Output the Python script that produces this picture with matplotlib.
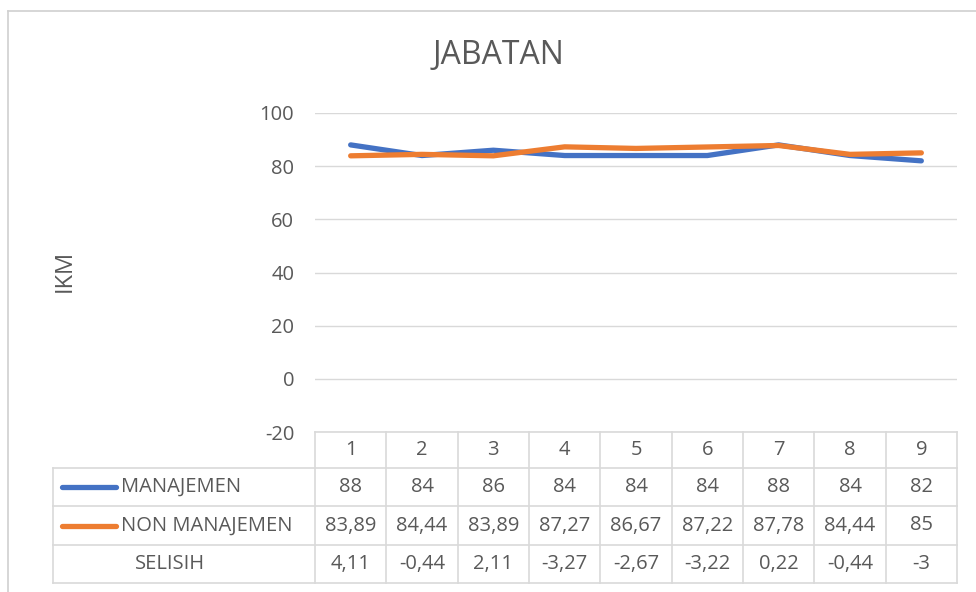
import matplotlib.pyplot as plt
import matplotlib.transforms as mtransforms
from matplotlib.lines import Line2D
import numpy as np

categories = ['1', '2', '3', '4', '5', '6', '7', '8', '9']
manajemen = [88, 84, 86, 84, 84, 84, 88, 84, 82]
non_manajemen = [83.89, 84.44, 83.89, 87.27, 86.67, 87.22, 87.78, 84.44, 85]
selisih = ['4,11', '-0,44', '2,11', '-3,27', '-2,67', '-3,22', '0,22', '-0,44', '-3']
y_ticks = [-20, 0, 20, 40, 60, 80, 100]

BLUE = '#4472C4'
ORANGE = '#ED7D31'
TXT = '#595959'
GRID = '#D9D9D9'
FS = 14.5

plt.rcParams['font.family'] = ['Open Sans', 'DejaVu Sans']

W, H = 976, 592
fig = plt.figure(figsize=(W / 100, H / 100), dpi=100)

def fy(py):
    return 1 - py / H

left_px, right_px = 315, 957
top_px, bot_px = 113, 432
ax = fig.add_axes([left_px / W, fy(bot_px), (right_px - left_px) / W, (bot_px - top_px) / H])

x = np.arange(1, len(categories) + 1)
ax.plot(x, manajemen, color=BLUE, lw=3.8, solid_joinstyle='round', solid_capstyle='round', zorder=3)
ax.plot(x, non_manajemen, color=ORANGE, lw=3.8, solid_joinstyle='round', solid_capstyle='round', zorder=3)

ax.set_xlim(0.5, len(categories) + 0.5)
ax.set_ylim(-20, 100)
ax.set_yticks(y_ticks)
ax.set_yticklabels([str(t) for t in y_ticks], fontsize=FS, color=TXT)
ax.tick_params(axis='y', length=0, pad=15)
ax.set_xticks([])
ax.grid(axis='y', color=GRID, lw=1)
ax.set_axisbelow(True)
for s in ax.spines.values():
    s.set_visible(False)

fig.text(65 / W, fy(271), 'IKM', rotation=90, ha='center', va='center', fontsize=17, color=TXT)
fig.text(498 / W, fy(56), 'JABATAN', ha='center', va='center', fontsize=23, color=TXT)

# data table below the plot
trans = mtransforms.blended_transform_factory(ax.transData, fig.transFigure)
row_edges = [432, 468, 506, 545, 583]
label_left = 53
col_edges = np.arange(0.5, len(categories) + 1, 1.0)

line_kw = dict(color=GRID, lw=1.2)
# horizontal lines
fig.add_artist(Line2D([left_px / W, right_px / W], [fy(row_edges[0])] * 2, transform=fig.transFigure, **line_kw))
for r in row_edges[1:]:
    fig.add_artist(Line2D([label_left / W, right_px / W], [fy(r)] * 2, transform=fig.transFigure, **line_kw))
# vertical lines
for c in col_edges:
    fig.add_artist(Line2D([c, c], [fy(row_edges[0]), fy(row_edges[-1])], transform=trans, **line_kw))
fig.add_artist(Line2D([label_left / W] * 2, [fy(row_edges[1]), fy(row_edges[-1])], transform=fig.transFigure, **line_kw))

rows = [
    [str(v) for v in manajemen],
    [('%g' % v).replace('.', ',') for v in non_manajemen],
    selisih,
]
centers = [(row_edges[i] + row_edges[i + 1]) / 2 for i in range(len(row_edges) - 1)]
for xi, c in zip(x, categories):
    fig.text(xi, fy(centers[0]), c, transform=trans, ha='center', va='center', fontsize=FS, color=TXT)
for ri, vals in enumerate(rows):
    for xi, v in zip(x, vals):
        fig.text(xi, fy(centers[ri + 1]), v, transform=trans, ha='center', va='center', fontsize=FS, color=TXT)

labels = ['MANAJEMEN', 'NON MANAJEMEN', 'SELISIH']
keys = [BLUE, ORANGE, None]
for ri, (lab, col) in enumerate(zip(labels, keys)):
    yc = fy(centers[ri + 1])
    if col is not None:
        fig.add_artist(Line2D([62 / W, 116 / W], [yc, yc], transform=fig.transFigure,
                              color=col, lw=3.8, solid_capstyle='round'))
        fig.text(121 / W, yc, lab, ha='left', va='center', fontsize=FS, color=TXT)
    else:
        fig.text(135 / W, yc, lab, ha='left', va='center', fontsize=FS, color=TXT)

# chart area border (top and left edges visible)
fig.add_artist(Line2D([8 / W, 1], [fy(10.5)] * 2, transform=fig.transFigure, color='#D0D0D0', lw=1.2))
fig.add_artist(Line2D([8 / W] * 2, [fy(10.5), 0], transform=fig.transFigure, color='#D0D0D0', lw=1.2))

fig.savefig('out.png', dpi=100)
